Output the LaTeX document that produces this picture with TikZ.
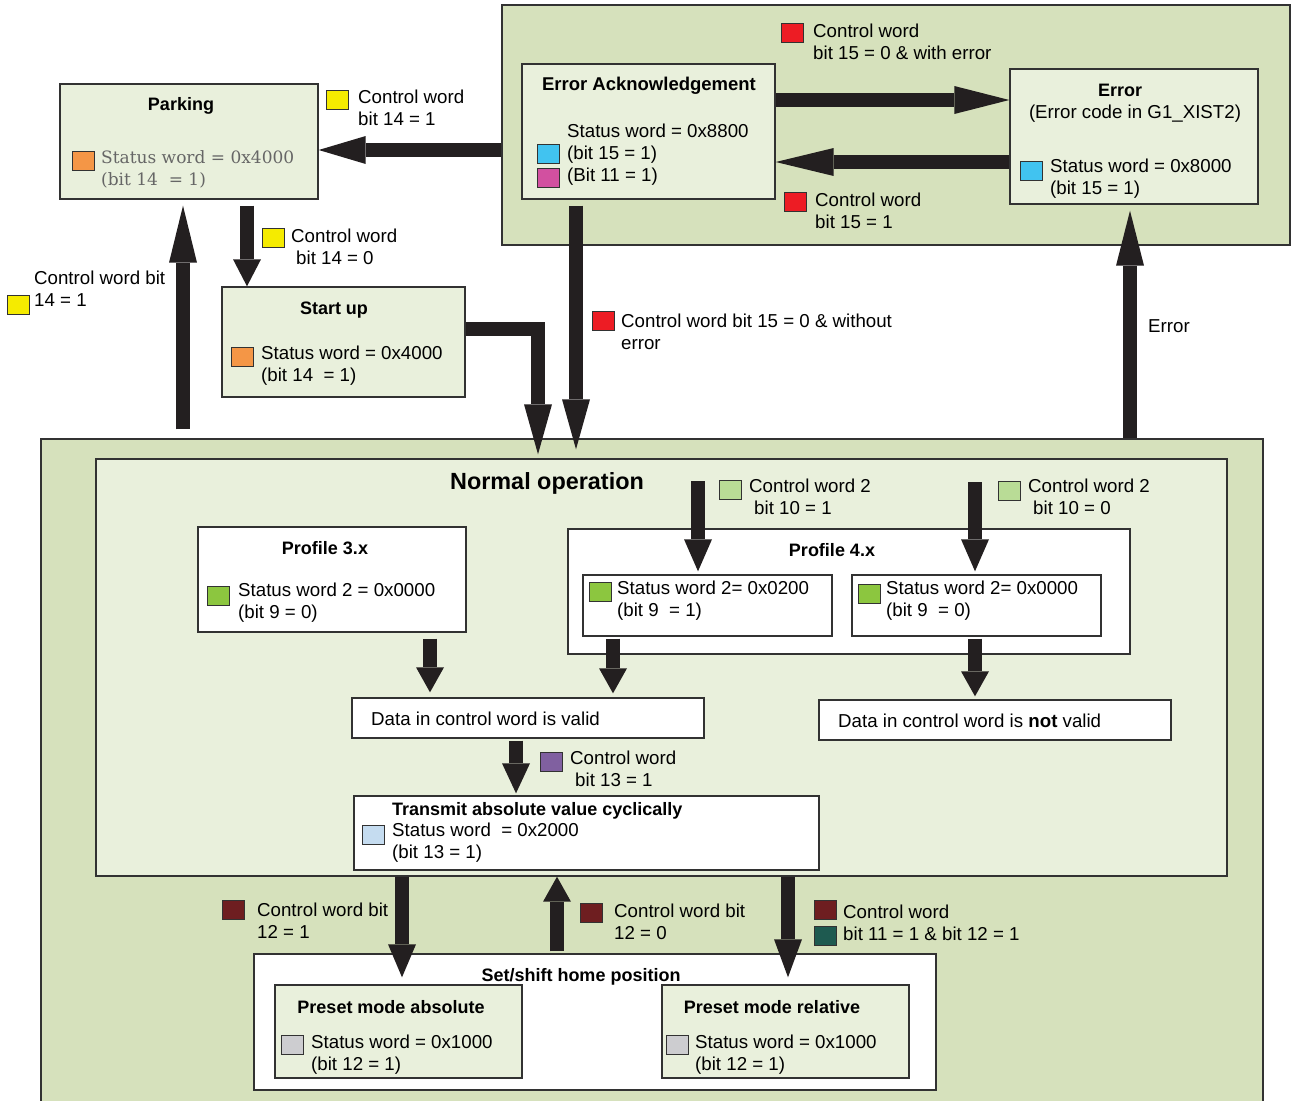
\documentclass[tikz,border=0pt]{standalone}
\usepackage{fontspec}
\setmainfont{Liberation Sans}
\newfontfamily\slabfont{DejaVu Serif}
\usetikzlibrary{arrows.meta,fit}
\definecolor{grpgreen}{RGB}{214,225,188}
\definecolor{palegreen}{RGB}{233,240,220}
\definecolor{boxline}{RGB}{50,50,50}
\definecolor{arrowblk}{RGB}{35,31,32}
\definecolor{swyellow}{RGB}{245,235,0}
\definecolor{sworange}{RGB}{244,150,70}
\definecolor{swred}{RGB}{237,28,36}
\definecolor{swcyan}{RGB}{65,195,240}
\definecolor{swmagenta}{RGB}{210,80,160}
\definecolor{swgreen}{RGB}{140,198,63}
\definecolor{swlightgreen}{RGB}{185,220,150}
\definecolor{swpurple}{RGB}{128,96,160}
\definecolor{swlightblue}{RGB}{197,220,240}
\definecolor{swdarkred}{RGB}{110,30,32}
\definecolor{swteal}{RGB}{30,90,80}
\definecolor{swgrey}{RGB}{205,205,208}

\begin{document}
\begin{tikzpicture}[x=1pt, y=-1pt,
  grpbox/.style={draw=boxline, line width=1.4pt, fill=grpgreen, inner sep=0pt},
  statebox/.style={draw=boxline, line width=1.4pt, fill=palegreen, inner sep=0pt},
  whitebox/.style={draw=boxline, line width=1.4pt, fill=white, inner sep=0pt},
  swatch/.style={draw=boxline, line width=1pt, fill=#1, inner sep=0pt,
    minimum width=22pt, minimum height=19pt},
  txt/.style={anchor=north west, inner sep=0pt, align=left,
    font=\fontsize{18.7}{22}\selectfont},
  ttl/.style={anchor=base, inner sep=0pt, font=\fontsize{18}{22}\selectfont\bfseries},
  fatarrow/.style={draw=arrowblk, line width=14pt,
    -{Triangle[length=#1, width=28pt, line width=0pt]}},
  fatarrow/.default=40pt]

\useasboundingbox (0,0) rectangle (1292,1100);

% Groups
\node[grpbox, fit={(502,5) (1290,245)}] (errgrp) {};
\node[grpbox, fit={(41,439) (1263,1106)}] (normgrp) {};
\node[statebox, fit={(96,459) (1227,876)}] (normop) {};

% Parking / start up
\node[statebox, fit={(60,84) (318,199)}] (parking) {};
\node[statebox, fit={(222,287) (465,397)}] (startup) {};

% Error
\node[statebox, fit={(522,64) (775,199)}] (errack) {};
\node[statebox, fit={(1010,69) (1258,204)}] (errbox) {};

% Normal operation
\node[whitebox, fit={(198,527) (466,632)}] (prof3) {};
\node[whitebox, fit={(568,529) (1130,654)}] (prof4) {};
\node[whitebox, fit={(583,575) (832,636)}] (prof4a) {};
\node[whitebox, fit={(852,575) (1101,636)}] (prof4b) {};
\node[whitebox, fit={(352,698) (704,738)}] (valid) {};
\node[whitebox, fit={(819,700) (1171,740)}] (invalid) {};
\node[whitebox, fit={(354,796) (819,870)}] (transmit) {};

% Home position
\node[whitebox, fit={(254,954) (936,1090)}] (homepos) {};
\node[statebox, fit={(275,985) (522,1078)}] (presetabs) {};
\node[statebox, fit={(662,985) (909,1078)}] (presetrel) {};

% Arrows
\draw[fatarrow=47pt] (errgrp.west |- 0,150) -- (parking.east |- 0,150);
\draw[fatarrow=27pt, shorten <=6pt] (parking.south -| 247,0) -- (startup.north -| 247,0);
\draw[fatarrow=57pt, shorten <=9pt, shorten >=6pt] (normgrp.north -| 183,0) -- (parking.south -| 183,0);
\draw[fatarrow=50pt, line join=miter, shorten >=4pt] (startup.east |- 0,329) -| (normop.north -| 538,0);
\draw[fatarrow=50pt, shorten <=6pt, shorten >=9pt] (errack.south -| 576,0) -- (normop.north -| 576,0);
\draw[fatarrow=55pt, shorten >=6pt] (normgrp.north -| 1130,0) -- (errbox.south -| 1130,0);
\draw[fatarrow=55pt] (errack.east |- 0,100) -- (errbox.west |- 0,100);
\draw[fatarrow=58pt] (errbox.west |- 0,162) -- (errack.east |- 0,162);

\coordinate (cw2on) at (698,481);
\coordinate (cw2off) at (975,482);
\draw[fatarrow=32pt, shorten >=3pt] (cw2on) -- (prof4a.north -| cw2on);
\draw[fatarrow=32pt, shorten >=3pt] (cw2off) -- (prof4b.north -| cw2off);
\draw[fatarrow=25pt, shorten <=6pt, shorten >=5pt] (prof3.south -| 430,0) -- (valid.north -| 430,0);
\draw[fatarrow=25pt, shorten <=2pt, shorten >=4pt] (prof4a.south -| 613,0) -- (valid.north -| 613,0);
\draw[fatarrow=25pt, shorten <=2pt, shorten >=3pt] (prof4b.south -| 975,0) -- (invalid.north -| 975,0);
\draw[fatarrow=30pt, shorten <=2pt, shorten >=2pt] (valid.south -| 516,0) -- (transmit.north -| 516,0);
\draw[fatarrow=33pt, shorten <=6pt, shorten >=7pt] (transmit.south -| 402,0) -- (presetabs.north -| 402,0);
\draw[fatarrow=25pt, shorten <=2pt, shorten >=6pt] (homepos.north -| 557,0) -- (transmit.south -| 557,0);
\draw[fatarrow=38pt, shorten <=6pt, shorten >=7pt] (transmit.south -| 788,0) -- (presetrel.north -| 788,0);

% Parking texts
\node[ttl] (parkingT) at (181,110) {Parking};
\node[swatch=sworange] (parkingSw) at (83,161) {};
\node[txt, font=\fontsize{17}{22}\slabfont, text=black!60] (parkingS) at (101,150) {Status word = 0x4000\\(bit 14\ \ = 1)};
\node[swatch=swyellow] (toParkSw) at (337,100) {};
\node[txt] (toParkL) at (358,90) {Control word\\bit 14 = 1};

% Start up texts
\node[ttl] (startupT) at (334,314) {Start up};
\node[swatch=sworange] (startupSw) at (242,357) {};
\node[txt] (startupS) at (261,346) {Status word = 0x4000\\(bit 14\ \ = 1)};
\node[swatch=swyellow] (toStartSw) at (273,238) {};
\node[txt] (toStartL) at (291,229) {Control word\\\hspace*{5pt}bit 14 = 0};
\node[txt] (backParkL) at (34,271) {Control word bit\\14 = 1};
\node[swatch=swyellow] (backParkSw) at (18,305) {};

% Error texts
\node[ttl, font=\fontsize{18.5}{22}\selectfont\bfseries] (errackT) at (649,90) {Error Acknowledgement};
\node[txt] (errackS) at (567,124) {Status word = 0x8800\\(bit 15 = 1)\\(Bit 11 = 1)};
\node[swatch=swcyan] (errackSw1) at (548,154) {};
\node[swatch=swmagenta] (errackSw2) at (548,178) {};
\node[ttl] (errT) at (1120,96) {Error};
\node[txt, anchor=base] (errCode) at (1135,118) {(Error code in G1\_XIST2)};
\node[swatch=swcyan] (errSw) at (1031,171) {};
\node[txt] (errS) at (1050,159) {Status word = 0x8000\\(bit 15 = 1)};
\node[swatch=swred] (toErrSw) at (792,33) {};
\node[txt] (toErrL) at (813,24) {Control word\\bit 15 = 0 \& with error};
\node[swatch=swred] (toAckSw) at (795,202) {};
\node[txt] (toAckL) at (815,193) {Control word\\bit 15 = 1};
\node[swatch=swred] (toNormSw) at (603,321) {};
\node[txt] (toNormL) at (621,314) {Control word bit 15 = 0 \& without\\error};
\node[txt] (errorL) at (1148,319) {Error};

% Normal operation texts
\node[ttl, font=\fontsize{23.4}{28}\selectfont\bfseries] (normT) at (547,489) {Normal operation};
\node[swatch=swlightgreen] (cw2onSw) at (730,490) {};
\node[txt] (cw2onL) at (749,479) {Control word 2\\\hspace*{5pt}bit 10 = 1};
\node[swatch=swlightgreen] (cw2offSw) at (1009,491) {};
\node[txt] (cw2offL) at (1028,479) {Control word 2\\\hspace*{5pt}bit 10 = 0};
\node[ttl] (prof3T) at (325,554) {Profile 3.x};
\node[swatch=swgreen] (prof3Sw) at (218,596) {};
\node[txt] (prof3S) at (238,583) {Status word 2 = 0x0000\\(bit 9 = 0)};
\node[ttl] (prof4T) at (832,556) {Profile 4.x};
\node[swatch=swgreen] (prof4aSw) at (600,592) {};
\node[txt] (prof4aS) at (617,581) {Status word 2= 0x0200\\(bit 9\ \ = 1)};
\node[swatch=swgreen] (prof4bSw) at (869,594) {};
\node[txt] (prof4bS) at (886,581) {Status word 2= 0x0000\\(bit 9\ \ = 0)};
\node[txt] (validT) at (371,712) {Data in control word is valid};
\node[txt] (invalidT) at (838,714) {Data in control word is \textbf{not} valid};
\node[swatch=swpurple] (cw13Sw) at (551,762) {};
\node[txt] (cw13L) at (570,751) {Control word\\\hspace*{5pt}bit 13 = 1};
\node[ttl, anchor=base west] (transmitT) at (392,815) {Transmit absolute value cyclically};
\node[swatch=swlightblue] (transmitSw) at (373,835) {};
\node[txt] (transmitS) at (392,823) {Status word\ \ = 0x2000\\(bit 13 = 1)};

% Home position texts
\node[swatch=swdarkred] (cw12onSw) at (233,910) {};
\node[txt] (cw12onL) at (257,903) {Control word bit\\12 = 1};
\node[swatch=swdarkred] (cw12offSw) at (591,913) {};
\node[txt] (cw12offL) at (614,904) {Control word bit\\12 = 0};
\node[swatch=swdarkred] (cw11Sw1) at (825,910) {};
\node[swatch=swteal] (cw11Sw2) at (825,936) {};
\node[txt] (cw11L) at (843,905) {Control word\\bit 11 = 1 \& bit 12 = 1};
\node[ttl] (homeposT) at (581,981) {Set/shift home position};
\node[ttl] (presetabsT) at (391,1013) {Preset mode absolute};
\node[swatch=swgrey] (presetabsSw) at (292,1045) {};
\node[txt] (presetabsS) at (311,1035) {Status word = 0x1000\\(bit 12 = 1)};
\node[ttl] (presetrelT) at (772,1013) {Preset mode relative};
\node[swatch=swgrey] (presetrelSw) at (677,1045) {};
\node[txt] (presetrelS) at (695,1035) {Status word = 0x1000\\(bit 12 = 1)};

\end{tikzpicture}
\end{document}
